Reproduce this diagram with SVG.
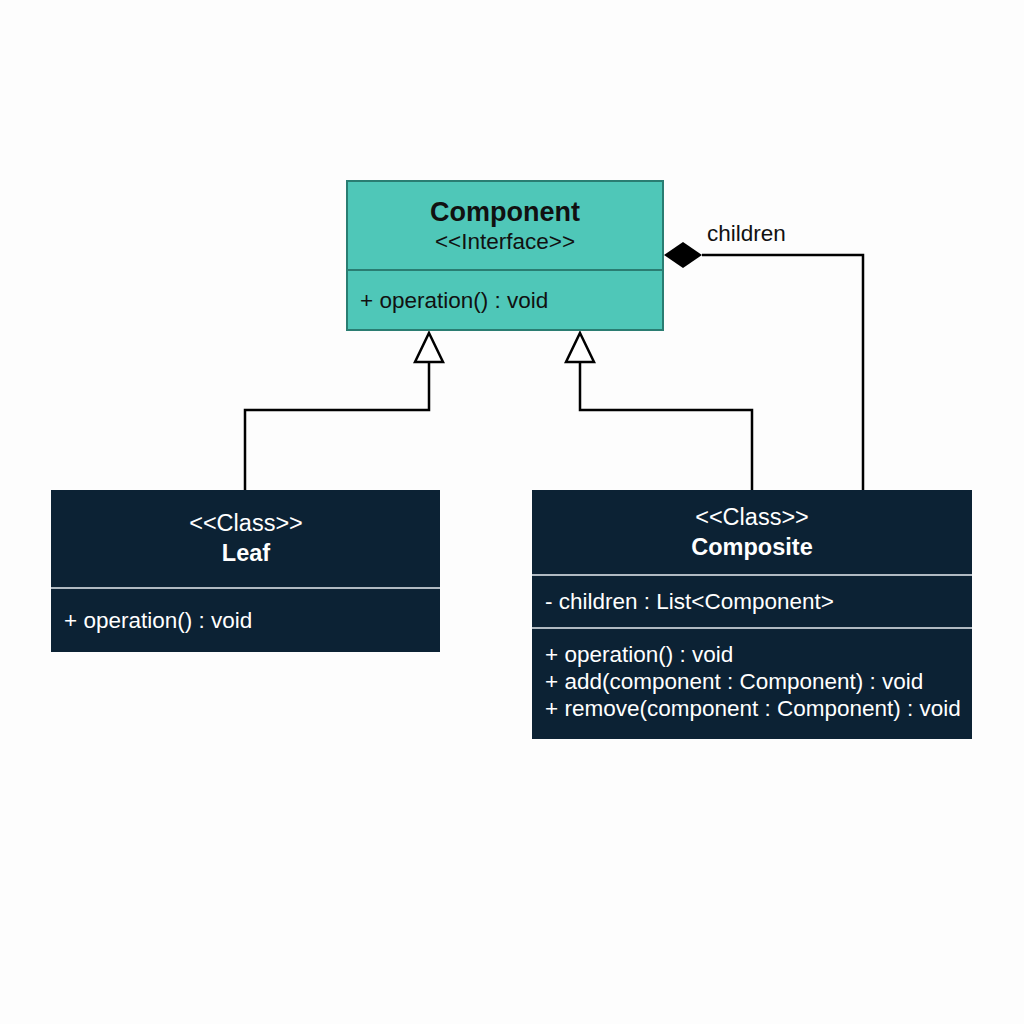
<svg xmlns="http://www.w3.org/2000/svg" width="1024" height="1024" viewBox="0 0 1024 1024">
<style>
text{font-family:"Liberation Sans",Arial,sans-serif;}
.dark{fill:#0c2234;}
.sep{stroke:#e8eef2;stroke-width:1.5;}
.w{fill:#ffffff;font-size:22.5px;}
.st{font-size:23.5px;}
.wb{fill:#ffffff;font-size:23.5px;font-weight:bold;}
.k{fill:#111111;font-size:22.5px;}
.conn{fill:none;stroke:#000;stroke-width:2.5;}
</style>
<rect width="1024" height="1024" fill="#fdfdfd"/>
<g id="connectors">
<path class="conn" d="M245,490 V410 H429 V362"/>
<path d="M429,333 L443,362 L415,362 Z" fill="#fff" stroke="#000" stroke-width="2.5"/>
<path class="conn" d="M752,490 V410 H580 V362"/>
<path d="M580,333 L594,362 L566,362 Z" fill="#fff" stroke="#000" stroke-width="2.5"/>
<path class="conn" d="M702,255 H863 V490"/>
<path d="M664,255 L683,242 L702,255 L683,268 Z" fill="#000"/>
<text x="707" y="241" class="k">children</text>
</g>
<g id="component">
<rect x="347" y="181" width="316" height="149" fill="#4fc7b8" stroke="#2a7d72" stroke-width="2"/>
<line x1="347" y1="270" x2="663" y2="270" stroke="#2a7d72" stroke-width="2"/>
<text x="505" y="221" text-anchor="middle" style="font-size:27px;font-weight:bold;fill:#111">Component</text>
<text x="505" y="249" text-anchor="middle" class="k st">&lt;&lt;Interface&gt;&gt;</text>
<text x="360" y="308" class="k">+ operation() : void</text>
</g>
<g id="leaf">
<rect x="51" y="490" width="389" height="162" class="dark"/>
<line x1="51" y1="588" x2="440" y2="588" class="sep"/>
<text x="246" y="531" text-anchor="middle" class="w st">&lt;&lt;Class&gt;&gt;</text>
<text x="246" y="561" text-anchor="middle" class="wb">Leaf</text>
<text x="64" y="628" class="w">+ operation() : void</text>
</g>
<g id="composite">
<rect x="532" y="490" width="440" height="249" class="dark"/>
<line x1="532" y1="575" x2="972" y2="575" class="sep"/>
<line x1="532" y1="628" x2="972" y2="628" class="sep"/>
<text x="752" y="525" text-anchor="middle" class="w st">&lt;&lt;Class&gt;&gt;</text>
<text x="752" y="555" text-anchor="middle" class="wb">Composite</text>
<text x="545" y="609" class="w">- children : List&lt;Component&gt;</text>
<text x="545" y="662" class="w">+ operation() : void</text>
<text x="545" y="689" class="w">+ add(component : Component) : void</text>
<text x="545" y="716" class="w">+ remove(component : Component) : void</text>
</g>
</svg>
